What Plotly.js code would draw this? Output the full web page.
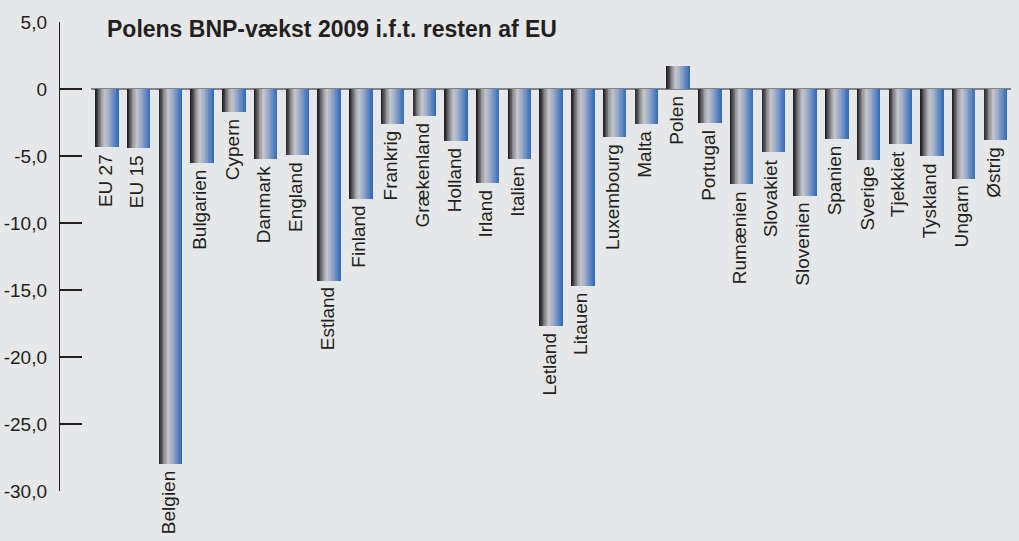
<!DOCTYPE html>
<html>
<head>
<meta charset="utf-8">
<script src="https://cdn.plot.ly/plotly-3.0.1.min.js"></script>
<style>
html,body{margin:0;padding:0;background:#e6e7e8;}
#chart{width:1019px;height:541px;}
</style>
</head>
<body>
<div id="chart"></div>
<script>
const countries = ["EU 27","EU 15","Belgien","Bulgarien","Cypern","Danmark","England","Estland","Finland","Frankrig","Grækenland","Holland","Irland","Italien","Letland","Litauen","Luxembourg","Malta","Polen","Portugal","Rumænien","Slovakiet","Slovenien","Spanien","Sverige","Tjekkiet","Tyskland","Ungarn","Østrig"];
const growth = [-4.3,-4.4,-28.0,-5.5,-1.7,-5.2,-4.9,-14.3,-8.2,-2.6,-2.0,-3.9,-7.0,-5.2,-17.7,-14.7,-3.6,-2.6,1.7,-2.5,-7.1,-4.7,-8.0,-3.7,-5.3,-4.1,-5.0,-6.7,-3.8];
const tickVals = [5,0,-5,-10,-15,-20,-25,-30];
const tickText = ["5,0","0","-5,0","-10,0","-15,0","-20,0","-25,0","-30,0"];
const chartTitle = "Polens BNP-vækst 2009 i.f.t. resten af EU";

// horizontal gradient stops (position, rgb)
const stops = [
  [0.00,[26,26,28]],
  [0.10,[70,70,72]],
  [0.25,[150,150,154]],
  [0.40,[196,198,204]],
  [0.58,[160,174,200]],
  [0.78,[104,140,196]],
  [1.00,[44,106,180]]
];
function gradColor(t){
  for(let i=0;i<stops.length-1;i++){
    const a=stops[i], b=stops[i+1];
    if(t<=b[0]){
      const f=(t-a[0])/(b[0]-a[0]);
      const c=a[1].map((v,k)=>Math.round(v+(b[1][k]-v)*f));
      return `rgb(${c[0]},${c[1]},${c[2]})`;
    }
  }
  const c=stops[stops.length-1][1];
  return `rgb(${c[0]},${c[1]},${c[2]})`;
}

const xIdx = countries.map((_,i)=>i);
const barW = 0.74;
const N = 30;
const traces = [];
for(let s=0;s<N;s++){
  const start = -barW/2 + s*barW/N;
  traces.push({
    type:'bar',
    x:xIdx,
    y:growth,
    offset:start,
    width:barW - s*barW/N,
    marker:{color:gradColor((s+0.5)/N), line:{width:0}},
    hoverinfo:'skip',
    showlegend:false
  });
}

const annotations = countries.map((c,i)=>({
  x:i, y:Math.min(growth[i],0), xref:'x', yref:'y',
  text:c, textangle:-90, showarrow:false,
  xanchor:'center', yanchor:'top', yshift:-5, xshift:-2,
  font:{family:'Liberation Sans, Arial, sans-serif', size:19, color:'#231f20'}
}));

const layout = {
  width:1019, height:541,
  paper_bgcolor:'#e6e7e8', plot_bgcolor:'#e6e7e8',
  margin:{l:60, r:8, t:22, b:50},
  barmode:'overlay',
  bargap:0,
  title:{text:'<b>'+chartTitle+'</b>', x:(107-60)/951, xanchor:'left', xref:'paper', y:1-29/541, yanchor:'middle',
         font:{family:'Liberation Sans, Arial, sans-serif', size:23, color:'#231f20'}},
  xaxis:{range:[-1.48,28.49], visible:false, fixedrange:true},
  yaxis:{range:[-30,5], tickvals:tickVals, ticktext:tickText, ticks:'inside', ticklen:22, tickwidth:1.2, tickcolor:'#231f20',
         showline:true, linecolor:'#231f20', linewidth:1.2, showgrid:false, zeroline:false,
         ticklabelstandoff:8,
         tickfont:{family:'Liberation Sans, Arial, sans-serif', size:19, color:'#231f20'}},
  shapes:[{type:'line', xref:'x', yref:'y', x0:-0.5, x1:28.5, y0:0, y1:0, line:{color:'#231f20', width:1.2}, layer:'below'}],
  annotations:annotations
};

Plotly.newPlot('chart', traces, layout, {displayModeBar:false, staticPlot:true});
</script>
</body>
</html>
